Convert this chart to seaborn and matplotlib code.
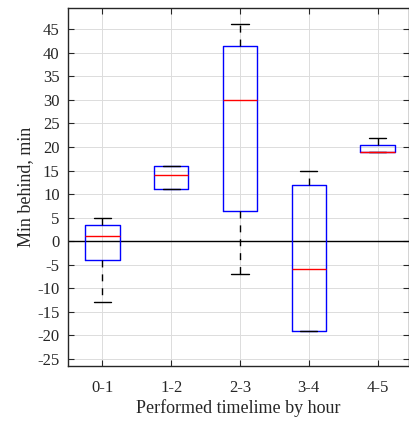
import numpy as np
import matplotlib
matplotlib.use("Agg")
import matplotlib.pyplot as plt
import seaborn as sns

# ── DATA ─────────────────────────────────────────────────────
hours      = ["0-1", "1-2", "2-3", "3-4", "4-5"]
whisk_low  = [-13, 11, -7, -19, 19]
q1         = [-4, 11, 6.5, -19, 19]
medians    = [1, 14, 30, -6, 19]
q3         = [3.5, 16, 41.5, 12, 20.5]
whisk_high = [5, 16, 46, 15, 22]
y_ticks    = list(range(-25, 50, 5))

# ── STYLE ────────────────────────────────────────────────────
sns.set_style("whitegrid")
plt.rcParams["font.family"] = ["Liberation Serif", "DejaVu Serif"]
plt.rcParams["axes.unicode_minus"] = False

fig = plt.figure(figsize=(4.09, 4.22), dpi=100)
ax = fig.add_axes([68 / 409, 1 - 366 / 422, 340.5 / 409, 358 / 422])

stats = [
    dict(whislo=lo, q1=a, med=m, q3=b, whishi=hi, fliers=[], label=h)
    for h, lo, a, m, b, hi in zip(hours, whisk_low, q1, medians, q3, whisk_high)
]

ax.axhline(0, color="black", lw=1.0, zorder=1)
ax.bxp(
    stats, positions=np.arange(1, len(hours) + 1), widths=0.5,
    showfliers=False, capwidths=0.25,
    boxprops=dict(color="blue", lw=1.0),
    medianprops=dict(color="red", lw=1.0),
    whiskerprops=dict(color="black", lw=1.0, ls=(0, (5, 5))),
    capprops=dict(color="black", lw=1.0),
    manage_ticks=False,
)

ax.set_xticks(np.arange(1, len(hours) + 1))
ax.set_xticklabels(hours)
ax.set_yticks(y_ticks)
ax.set_xlim(0.5, 5.45)
ax.set_ylim(-26.5, 49.5)

ax.grid(True, color="#dcdcdc", lw=0.7)
for s in ax.spines.values():
    s.set_color("#262626")
    s.set_linewidth(1.0)
ax.tick_params(direction="in", length=4, width=0.8, colors="#262626",
               labelsize=12, top=True, right=True, left=True, bottom=True,
               labelcolor="#262626")
ax.tick_params(axis="x", pad=10)
ax.tick_params(axis="y", pad=6)
ax.set_xlabel("Performed timelime by hour", fontsize=13, color="#262626", labelpad=2)
ax.set_ylabel("Min behind, min", fontsize=13, color="#262626", labelpad=2)

fig.savefig("out.png", dpi=100)
